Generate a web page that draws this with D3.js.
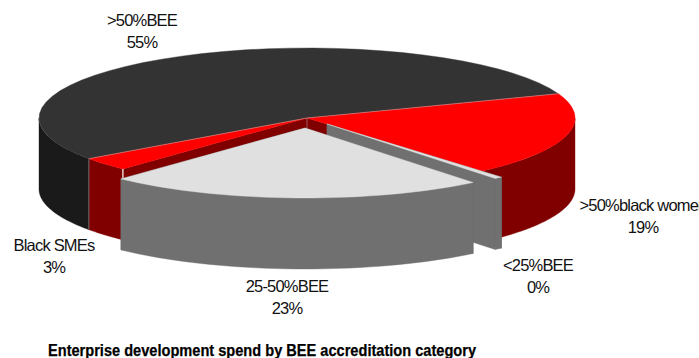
<!DOCTYPE html>
<html>
<head>
<meta charset="utf-8">
<script src="https://cdnjs.cloudflare.com/ajax/libs/d3/7.8.5/d3.min.js"></script>
<style>
html,body{margin:0;padding:0;background:#fff;overflow:hidden}
svg{display:block}
text{font-family:"Liberation Sans",Arial,sans-serif;fill:#111}
</style>
</head>
<body>
<svg id="chart" width="699" height="358"></svg>
<script>
// Enterprise development spend, share per BEE accreditation category
const categories = [">50%black women", "<25%BEE", "25-50%BEE", "Black SMEs", ">50%BEE"];
const shares = [19.49, 0.49, 23, 3.1, 54.6];
const topColours = ["#ff0000", "#e0e0e0", "#e0e0e0", "#ff0000", "#333333"];
const wallColours = ["#800000", "#707070", "#707070", "#800000", "#1a1a1a"];
const explodeX = [0, 20, -2, 0, 0];
const explodeY = [0, 6, 10, 0, 0];
const labelX = [643, 538, 287, 54, 142];
const labelY = [205, 265, 286, 245, 20];
const chartTitle = "Enterprise development spend by BEE accreditation category";

const cx = 307, cy = 118, rx = 268, ry = 70, depth = 71;
const deg = Math.PI / 180;

const svg = d3.select("#chart");
const line = d3.line();
const pie = d3.pie().sort(null)
  .startAngle(69.7 * deg)
  .endAngle(429.7 * deg);
const slices = pie(shares).map((s, i) => ({
  ...s, i,
  dx: explodeX[i], dy: explodeY[i],
  // pie angles run from 12 o'clock; the ellipse is parameterised from 3 o'clock
  t0: s.startAngle - Math.PI / 2,
  t1: s.endAngle - Math.PI / 2
}));

const px = (s, t) => cx + s.dx + rx * Math.cos(t);
const py = (s, t) => cy + s.dy + ry * Math.sin(t);
const rim = (s, a, b) => d3.range(0, 41).map(k => {
  const t = a + (b - a) * k / 40;
  return [px(s, t), py(s, t)];
});

function topFace(s) {
  return line([[cx + s.dx, cy + s.dy], ...rim(s, s.t0, s.t1)]) + "Z";
}
// Outer rim wall, front half of the ellipse only
function outerWall(s) {
  const parts = [];
  [[s.t0, s.t1], [s.t0 - 2 * Math.PI, s.t1 - 2 * Math.PI]].forEach(([a0, b0]) => {
    const a = Math.max(a0, 0), b = Math.min(b0, Math.PI);
    if (b > a) {
      const top = rim(s, a, b);
      const bottom = top.map(([x, y]) => [x, y + depth]).reverse();
      parts.push(line([...top, ...bottom]) + "Z");
    }
  });
  return parts.join("");
}
// Flat cut face running from the centre to the rim at angle t
function cutFace(s, t) {
  const ax = cx + s.dx, ay = cy + s.dy, bx = px(s, t), by = py(s, t);
  return line([[ax, ay], [bx, by], [bx, by + depth], [ax, ay + depth]]) + "Z";
}

const g = svg.append("g");
const addShape = (d, fill) => g.append("path").attr("d", d)
  .attr("fill", fill).attr("stroke", fill).attr("stroke-width", 0.4);
const seam = (d) => g.append("path").attr("d", d)
  .attr("fill", "none").attr("stroke", "#b8b8b8").attr("stroke-width", 0.5);

// Slices that stay in place
[0, 3, 4].forEach(i => addShape(outerWall(slices[i]), wallColours[i]));
addShape(cutFace(slices[3], slices[3].t0), wallColours[3]);
addShape(cutFace(slices[0], slices[0].t1), wallColours[0]);
[4, 0, 3].forEach(i => addShape(topFace(slices[i]), topColours[i]));

// Thin seams where the slices meet
const smes = slices[3], women = slices[0];
seam(line([[px(smes, smes.t1), py(smes, smes.t1)], [cx, cy], [px(women, women.t0), py(women, women.t0)]]));
seam(line([[px(smes, smes.t1), py(smes, smes.t1)], [px(smes, smes.t1), py(smes, smes.t1) + depth]]));
seam(line([[cx, cy], [cx, cy + 20]]));
// Light edge at the cut corner of the Black SMEs slice
g.append("path")
  .attr("d", line([[px(smes, smes.t0), py(smes, smes.t0)], [px(smes, smes.t0), py(smes, smes.t0) + depth]]))
  .attr("fill", "none").attr("stroke", "#fff").attr("stroke-width", 1.2);

// Pulled-out slices, back one first
[1, 2].forEach(i => {
  const s = slices[i];
  addShape(cutFace(s, s.t0), wallColours[i]);
  addShape(cutFace(s, s.t1), wallColours[i]);
  addShape(outerWall(s), wallColours[i]);
  addShape(topFace(s), topColours[i]);
});

// Category and percentage labels
categories.forEach((c, i) => {
  const t = svg.append("text")
    .attr("text-anchor", "middle")
    .attr("font-size", 16.5)
    .attr("letter-spacing", -0.8);
  t.append("tspan").attr("x", labelX[i]).attr("y", labelY[i] + 6).text(c);
  t.append("tspan").attr("x", labelX[i]).attr("y", labelY[i] + 28).text(Math.round(shares[i]) + "%");
});

svg.append("text")
  .attr("x", 48).attr("y", 356)
  .attr("style", "fill:#000;stroke:#000;stroke-width:0.25")
  .attr("font-size", 16.5)
  .attr("font-weight", "bold")
  .attr("textLength", 428)
  .attr("lengthAdjust", "spacingAndGlyphs")
  .text(chartTitle);
</script>
</body>
</html>
